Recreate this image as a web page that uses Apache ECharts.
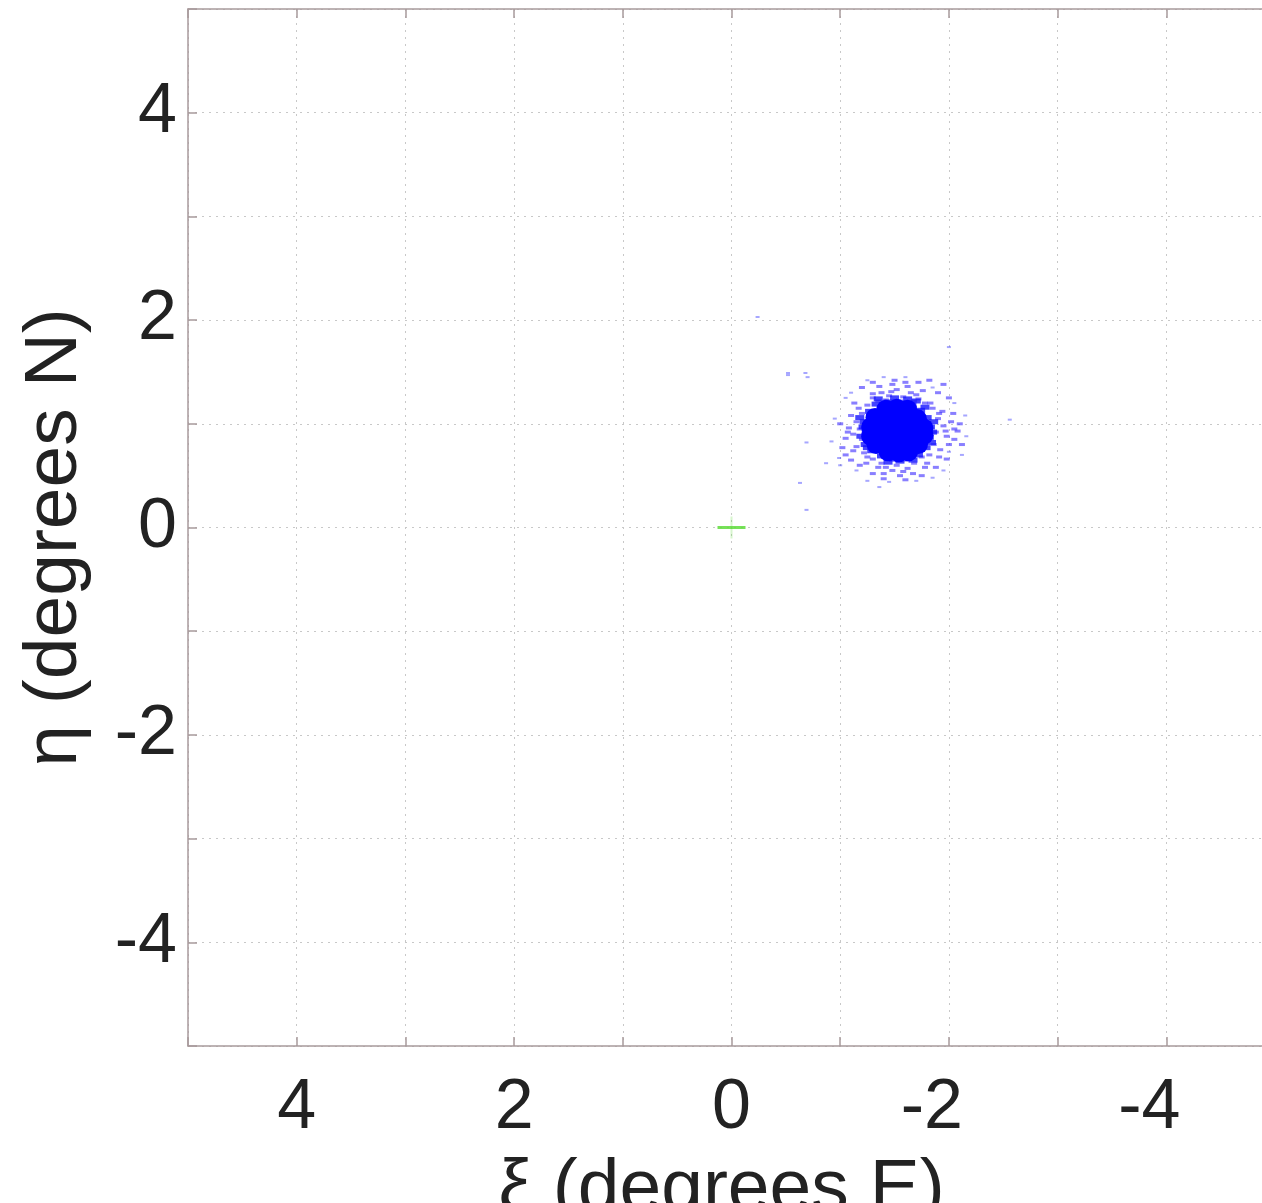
<!DOCTYPE html>
<html>
<head>
<meta charset="utf-8">
<script src="https://cdn.jsdelivr.net/npm/echarts@6/dist/echarts.min.js"></script>
<style>
  html, body { margin: 0; padding: 0; background: #fff; overflow: hidden; }
  #chart { width: 1280px; height: 1203px; }
</style>
</head>
<body>
<div id="chart"></div>
<script>
// Axis ranges and tick labels (degrees)
const xiRange = [-5, 5];
const etaRange = [-5, 5];
const labeledTicks = [-4, -2, 0, 2, 4];

// Dense core of the stellar overdensity (xi, eta)
const coreStars = [
  [-1.42, 1.14], [-1.52, 1.15], [-1.62, 1.14],
  [-1.32, 1.06], [-1.42, 1.06], [-1.52, 1.06], [-1.62, 1.06], [-1.71, 1.05],
  [-1.28, 0.97], [-1.38, 0.97], [-1.48, 0.97], [-1.58, 0.97], [-1.68, 0.97], [-1.77, 0.96],
  [-1.28, 0.88], [-1.38, 0.88], [-1.48, 0.88], [-1.58, 0.88], [-1.68, 0.88], [-1.77, 0.89],
  [-1.33, 0.80], [-1.43, 0.79], [-1.53, 0.79], [-1.63, 0.79], [-1.72, 0.80],
  [-1.44, 0.73], [-1.54, 0.72], [-1.63, 0.73]
];

// Crowded edge of the core
const edgeStars = [
  [-1.22, 1.02], [-1.24, 0.92], [-1.23, 0.80], [-1.27, 1.12], [-1.33, 1.19], [-1.44, 1.21],
  [-1.57, 1.20], [-1.66, 1.18], [-1.74, 1.13], [-1.80, 1.06], [-1.83, 0.97], [-1.82, 0.87],
  [-1.79, 0.77], [-1.72, 0.70], [-1.60, 0.68], [-1.49, 0.66], [-1.38, 0.69], [-1.29, 0.74],
  [-1.26, 0.86], [-1.21, 0.97], [-1.19, 0.88], [-1.35, 1.24], [-1.70, 1.22], [-1.85, 0.92],
  [-1.55, 0.64], [-1.25, 0.77], [-1.50, 1.25], [-1.62, 1.24], [-1.86, 1.02], [-1.84, 0.82],
  [-1.44, 0.63], [-1.67, 0.65], [-1.18, 1.06], [-1.78, 1.16]
];

// Fringe of the cloud, just outside the core
const fringeStars = [
  [-1.30, 1.25], [-1.38, 1.30], [-1.45, 1.27], [-1.52, 1.33], [-1.58, 1.26], [-1.65, 1.30],
  [-1.72, 1.24], [-1.48, 1.38], [-1.62, 1.36], [-1.35, 1.22], [-1.78, 1.20], [-1.55, 1.22],
  [-1.42, 1.23], [-1.68, 1.22],
  [-1.85, 1.15], [-1.90, 1.05], [-1.95, 0.98], [-1.88, 0.92], [-1.98, 0.88], [-1.86, 0.80],
  [-1.92, 0.75], [-2.02, 1.02], [-2.08, 0.93], [-1.94, 1.12], [-1.82, 0.70], [-2.00, 0.80],
  [-1.30, 0.66], [-1.38, 0.62], [-1.45, 0.68], [-1.52, 0.60], [-1.60, 0.65], [-1.68, 0.62],
  [-1.75, 0.68], [-1.48, 0.55], [-1.62, 0.57], [-1.40, 0.52], [-1.55, 0.50], [-1.35, 0.58],
  [-1.80, 0.62],
  [-1.20, 1.10], [-1.15, 1.02], [-1.18, 0.95], [-1.12, 0.90], [-1.20, 0.85], [-1.15, 0.78],
  [-1.22, 0.72], [-1.08, 0.96], [-1.05, 0.86], [-1.25, 1.18], [-1.10, 1.08], [-1.25, 0.68],
  [-1.17, 1.15], [-1.30, 1.29], [-1.47, 1.31], [-1.70, 1.28], [-1.83, 1.20], [-1.91, 1.10],
  [-1.97, 0.93], [-1.91, 0.68], [-1.78, 0.58], [-1.58, 0.54], [-1.42, 0.58], [-1.24, 0.62],
  [-1.12, 0.74], [-1.07, 0.92], [-1.13, 1.20], [-1.60, 1.40], [-1.36, 1.36], [-1.76, 1.32],
  [-2.04, 1.10], [-2.05, 0.85], [-1.98, 0.66], [-1.67, 0.52], [-1.30, 0.52], [-1.02, 0.77],
  [-1.00, 1.00],
  [-1.90, 1.30], [-2.00, 1.25], [-1.95, 1.38], [-1.82, 1.42], [-1.72, 1.40], [-1.50, 1.42],
  [-1.30, 1.40], [-1.20, 1.35], [-2.10, 1.00], [-2.12, 0.80], [-1.10, 0.65], [-1.18, 0.60],
  [-1.05, 0.70], [-1.40, 0.47], [-1.60, 0.46], [-1.75, 0.50], [-1.88, 0.58], [-2.05, 0.95]
];

// Sparse outlying stars
const haloStars = [
  [-1.10, 1.30], [-1.25, 1.42], [-1.60, 1.45], [-1.85, 1.35], [-2.05, 1.20], [-2.12, 0.70],
  [-1.95, 0.55], [-1.70, 0.45], [-1.25, 0.45], [-1.00, 0.60], [-0.95, 1.05], [-1.05, 1.25],
  [-1.40, 1.45], [-2.15, 1.08], [-1.15, 0.55], [-1.85, 0.48],
  [-0.68, 1.49], [-0.24, 2.03], [-0.52, 1.47], [-0.70, 1.45], [-0.69, 0.82], [-0.63, 0.43],
  [-0.69, 0.17], [-0.87, 0.62], [-0.99, 0.67], [-0.92, 0.83], [-2.56, 1.04], [-2.16, 0.88],
  [-1.36, 0.39], [-1.45, 0.44], [-2.00, 0.73], [-2.00, 1.74], [-0.52, 1.49]
];

// Reference centre of the field
const fieldCentre = [[0, 0]];

const font = "'Liberation Sans', Arial, Helvetica, sans-serif";
const axisColor = '#a89a9c';
const textColor = '#222';

const yTickFormatter = v => (labeledTicks.indexOf(v) >= 0 ? String(v) : '');
// negative xi labels sit slightly left of their tick
const xTickFormatter = v => {
  if (labeledTicks.indexOf(v) < 0) return '';
  return v < 0 ? '{neg|' + v + '}' : '{pos|' + v + '}';
};
const labelRich = {
  neg: { fontFamily: font, fontSize: 70, color: textColor, padding: [0, 34, 0, 0] },
  pos: { fontFamily: font, fontSize: 70, color: textColor }
};

const chart = echarts.init(document.getElementById('chart'), null, { renderer: 'canvas' });

chart.setOption({
  backgroundColor: '#fff',
  animation: false,
  grid: { left: 188, top: 9, width: 1087, height: 1037, containLabel: false, outerBoundsMode: 'none' },
  xAxis: [
    {
      type: 'value', inverse: true, min: xiRange[0], max: xiRange[1], interval: 1,
      position: 'bottom',
      name: 'ξ (degrees E)', nameLocation: 'middle', nameGap: 107,
      nameTextStyle: { fontFamily: font, fontSize: 75, color: textColor, padding: [0, 20, 0, 0] },
      axisLine: { show: true, onZero: false, lineStyle: { color: axisColor, width: 1.5 } },
      axisTick: { show: true, inside: true, length: 9, lineStyle: { color: axisColor, width: 1.5 } },
      axisLabel: { fontFamily: font, fontSize: 70, color: textColor, margin: 28, formatter: xTickFormatter, rich: labelRich },
      splitLine: { show: true, lineStyle: { color: '#c8c8c8', width: 1, type: [2, 5] } }
    },
    {
      type: 'value', inverse: true, min: xiRange[0], max: xiRange[1], interval: 1,
      position: 'top',
      axisLine: { show: true, onZero: false, lineStyle: { color: axisColor, width: 1.5 } },
      axisTick: { show: true, inside: true, length: 9, lineStyle: { color: axisColor, width: 1.5 } },
      axisLabel: { show: false },
      splitLine: { show: false }
    }
  ],
  yAxis: [
    {
      type: 'value', min: etaRange[0], max: etaRange[1], interval: 1,
      position: 'left',
      name: 'η (degrees N)', nameLocation: 'middle', nameGap: 95, nameRotate: 90,
      nameTextStyle: { fontFamily: font, fontSize: 75, color: textColor, padding: [0, 20, 0, 0] },
      axisLine: { show: true, onZero: false, lineStyle: { color: axisColor, width: 1.5 } },
      axisTick: { show: true, inside: true, length: 9, lineStyle: { color: axisColor, width: 1.5 } },
      axisLabel: { fontFamily: font, fontSize: 70, color: textColor, margin: 11, formatter: yTickFormatter },
      splitLine: { show: true, lineStyle: { color: '#c8c8c8', width: 1, type: [2, 5] } }
    }
  ],
  series: [
    {
      name: 'halo', type: 'scatter', data: haloStars, symbol: 'rect', symbolSize: [4, 2],
      itemStyle: { color: '#3a3aff', opacity: 0.45 }, silent: true
    },
    {
      name: 'fringe', type: 'scatter', data: fringeStars, symbol: 'rect', symbolSize: [6, 3],
      itemStyle: { color: '#3a2aff', opacity: 0.6 }, silent: true
    },
    {
      name: 'edge', type: 'scatter', data: edgeStars, symbol: 'rect', symbolSize: [9, 5],
      itemStyle: { color: '#1414ff', opacity: 0.8 }, silent: true
    },
    {
      name: 'core', type: 'scatter', data: coreStars, symbol: 'circle', symbolSize: 19,
      itemStyle: { color: '#0000ff', opacity: 1 }, silent: true
    },
    {
      name: 'centre-h', type: 'scatter', data: fieldCentre, symbol: 'rect', symbolSize: [28, 3],
      itemStyle: { color: '#5fdc3c', opacity: 0.85 }, silent: true
    },
    {
      name: 'centre-v', type: 'scatter', data: fieldCentre, symbol: 'rect', symbolSize: [2, 22],
      itemStyle: { color: '#5fdc3c', opacity: 0.25 }, silent: true
    }
  ]
});
</script>
</body>
</html>
